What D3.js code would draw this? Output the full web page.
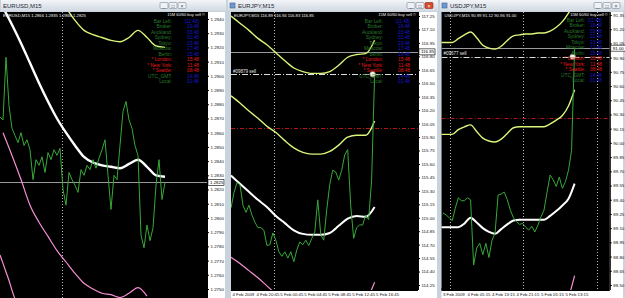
<!DOCTYPE html>
<html>
<head>
<meta charset="utf-8">
<script src="https://cdnjs.cloudflare.com/ajax/libs/d3/7.8.5/d3.min.js"></script>
<style>
  body { margin: 0; background: #d3dbe5; }
  svg { display: block; font-family: "Liberation Sans", Arial, sans-serif; }
</style>
</head>
<body>
<svg id="chart" width="625" height="298"></svg>
<script>
/* ---------------------------
   EURUSD, M15
--------------------------- */
const eurusdTicks = [1.2940, 1.2930, 1.2920, 1.2910, 1.2900, 1.2890, 1.2880, 1.2870, 1.2860, 1.2850,
    1.2840, 1.2830, 1.2820, 1.2810, 1.2800, 1.2790, 1.2780, 1.2770, 1.2760, 1.2750];
const eurusdClose = [1.2871, 1.2869, 1.2913, 1.2879, 1.2863, 1.2858, 1.2853, 1.2860, 1.2851, 1.2855,
    1.2848, 1.2827, 1.2841, 1.2837, 1.2843, 1.2832, 1.2846, 1.2841, 1.2848, 1.2844,
    1.2849, 1.2820, 1.2809, 1.2832, 1.2827, 1.2823, 1.2818, 1.2834, 1.2830, 1.2837,
    1.2834, 1.2841, 1.2835, 1.2842, 1.2848, 1.2855, 1.2830, 1.2806, 1.2830, 1.2827,
    1.2851, 1.2875, 1.2882, 1.2869, 1.2863, 1.2851, 1.2844, 1.2788, 1.2779, 1.2795,
    1.2784, 1.2793, 1.2823, 1.2841, 1.2813, 1.2825];
const eurusdMA = [1.2948, 1.2936, 1.2923, 1.2909, 1.2895, 1.2882, 1.2870, 1.2860, 1.2851, 1.2843,
    1.2839, 1.2837, 1.2836, 1.2835, 1.2838, 1.2841, 1.2836, 1.2830, 1.2829];
const eurusdUpper = [1.2948, 1.2939, 1.2932, 1.2929, 1.2927, 1.2925, 1.2924, 1.2927, 1.2932, 1.2927, 1.2921, 1.2920];
const eurusdPink = [1.2860, 1.2844, 1.2827, 1.2809, 1.2797, 1.2787, 1.2777, 1.2769, 1.2761, 1.2754,
    1.2750, 1.2747, 1.2746, 1.2744, 1.2747, 1.2751, 1.2745];
const eurusdPinkOld = [1.2774, 1.2768, 1.2762, 1.2756, 1.2749, 1.2743];
const eurusdBid = 1.2825;

/* ---------------------------
   EURJPY, M15
--------------------------- */
const eurjpyTicks = [117.25, 117.10, 116.95, 116.80, 116.65, 116.50, 116.35, 116.20, 116.05, 115.90, 115.75,
    115.60, 115.45, 115.30, 115.15, 115.00, 114.85, 114.70, 114.55, 114.40, 114.25];
const eurjpyClose = [115.11, 115.28, 115.39, 115.37, 115.14, 115.06, 115.14, 115.03, 114.95, 114.89,
    114.89, 114.86, 114.69, 114.70, 114.83, 114.75, 114.62, 114.57, 114.62, 114.55,
    114.62, 114.51, 114.64, 114.73, 114.70, 114.75, 114.69, 114.77, 114.84, 115.20,
    114.81, 114.75, 115.09, 115.37, 115.53, 115.51, 115.42, 115.53, 115.70, 115.76,
    115.14, 114.77, 114.89, 114.92, 114.92, 115.03, 114.98, 115.42, 116.60];
const eurjpyMA = [115.47, 115.38, 115.29, 115.20, 115.12, 115.02, 114.94, 114.86, 114.82, 114.81,
    114.81, 114.83, 114.91, 114.99, 115.02, 115.01, 115.12];
const eurjpyUpper = [117.25, 117.17, 117.09, 117.00, 116.93, 116.84, 116.75, 116.67, 116.63, 116.61,
    116.61, 116.63, 116.70, 116.79, 116.82, 116.83, 116.98];
const eurjpyLower = [116.36, 116.28, 116.19, 116.11, 116.02, 115.95, 115.86, 115.78, 115.73, 115.71,
    115.71, 115.74, 115.81, 115.90, 115.92, 115.92, 116.08];
const eurjpyPink = [114.56, 114.49, 114.41, 114.33, 114.24, 114.15, 114.06, 113.99, 113.95, 113.93,
    113.93, 113.95, 114.02, 114.08, 114.03, 114.08, 114.28];
const eurjpyTimeLabels = ["4 Feb 2009", "4 Feb 20:45", "5 Feb 00:45", "5 Feb 04:45", "5 Feb 08:45", "5 Feb 12:45", "5 Feb 16:45"];
const eurjpyBid = 116.85, eurjpySell = 116.60, eurjpyStop = 116.00;

/* ---------------------------
   USDJPY, M15
--------------------------- */
const usdjpyTicks = [91.35, 91.20, 91.05, 90.90, 90.75, 90.60, 90.45, 90.30, 90.15, 90.00,
    89.85, 89.70, 89.55, 89.40, 89.25, 89.10, 88.95, 88.80, 88.65, 88.50];
const usdjpyClose = [89.26, 89.24, 89.21, 89.18, 89.31, 89.42, 89.39, 89.39, 89.42, 89.40,
    88.71, 88.89, 88.94, 88.82, 88.94, 88.79, 88.97, 89.05, 89.45, 89.46,
    89.48, 89.40, 89.29, 89.21, 89.17, 89.14, 89.15, 89.11, 89.08, 89.12,
    89.06, 89.13, 89.22, 89.29, 89.48, 89.66, 89.61, 89.54, 89.64, 89.52,
    89.59, 89.71, 89.92, 91.00];
const usdjpyMA = [89.11, 89.11, 89.11, 89.11, 89.15, 89.21, 89.16, 89.10, 89.06, 89.04, 89.09, 89.14,
    89.18, 89.19, 89.19, 89.19, 89.19, 89.19, 89.23, 89.28, 89.34, 89.41, 89.57];
const usdjpyUpper = [91.06, 91.06, 91.06, 91.10, 91.14, 91.17, 91.11, 91.03, 91.00, 90.99, 91.02, 91.08,
    91.13, 91.14, 91.15, 91.15, 91.16, 91.16, 91.18, 91.22, 91.28, 91.37, 91.48];
const usdjpyLower = [90.09, 90.09, 90.09, 90.14, 90.17, 90.19, 90.12, 90.05, 90.02, 90.01, 90.04, 90.10,
    90.16, 90.17, 90.17, 90.17, 90.17, 90.17, 90.20, 90.24, 90.29, 90.39, 90.56];
const usdjpyPink = [87.92, 88.08, 88.23, 88.37, 88.60];
const usdjpyTimeLabels = ["3 Feb 2009", "4 Feb 05:15", "4 Feb 13:15", "4 Feb 21:15", "5 Feb 05:15", "5 Feb 13:15"];
const usdjpyBid = 91.00, usdjpySell = 90.91, usdjpyStop = 90.26;

/* ---------------------------
   Clock panel
--------------------------- */
const clockLabels = ["Bar Left:", "Broker:", "Auckland:", "Sydney:", "Tokyo:", "Moscow:", "Berlin:",
    "* London:", "* New York:", "* Seattle:", "UTC_GMT:", "Local:"];
const clockTimes = ["[11:48]", "16:48", "03:48", "01:48", "23:48", "17:48", "15:48",
    "15:48", "11:48", "08:48", "14:48", "01:48"];
const clockMarket = [false, false, false, false, false, false, false, true, true, true, false, false];

/* ---------------------------
   Colors
--------------------------- */
const C = {
    price: "#38a838",
    ma: "#ffffff",
    env: "#d9f57a",
    pink: "#f58fd2",
    bid: "#9a9a9a",
    sell: "#dcdcdc",
    stop: "#b0161a",
    label: "#2a7a2a",
    time: "#1818c8",
    market: "#e01b1b"
};

const svg = d3.select("#chart");
const defs = svg.append("defs");
const grad = defs.append("linearGradient").attr("id", "tbar").attr("x1", 0).attr("x2", 0).attr("y1", 0).attr("y2", 1);
grad.append("stop").attr("offset", "0%").attr("stop-color", "#f3f5f8");
grad.append("stop").attr("offset", "100%").attr("stop-color", "#d2d9e2");

const panels = [
    {
        id: "eurusd", title: "EURUSD,M15", frame: [0, 227], plot: [0, 207, 12, 298],
        bars: [0, 138], yDomain: [1.2750, 1.2940], yRange: [289, 19], ticks: eurusdTicks, fmt: d3.format(".4f"),
        ohlc: "EURUSD,M15  1.2866 1.2835 1.2866 1.2825",
        separators: [41], bid: eurusdBid, icon: false, buttonsX: 160, closeRed: false,
        series: [
            { v: eurusdPinkOld, start: 0, step: 2, color: C.pink, w: 1.2, curve: true },
            { v: eurusdPink, start: 2, step: 6, color: C.pink, w: 1.2, curve: true },
            { v: eurusdUpper, start: 44, step: 6, color: C.env, w: 1.4, curve: true },
            { v: eurusdMA, start: 2, step: 6, color: C.ma, w: 2.4, curve: true },
            { v: eurusdClose, start: 0, step: 2, color: C.price, w: 1, curve: false }
        ],
        clock: { labelRight: 172, timeRight: 199, top: 19 }
    },
    {
        id: "eurjpy", title: "EURJPY,M15", frame: [227, 439], plot: [231, 418, 12, 290],
        bars: [0, 125], yDomain: [114.25, 117.25], yRange: [285, 16], ticks: eurjpyTicks, fmt: d3.format(".2f"),
        ohlc: "EURJPY,M15  116.89 116.94 116.83 116.85",
        separators: [29], bid: eurjpyBid, sell: eurjpySell, sellText: "#09879 sell", stop: eurjpyStop,
        timeBars: [0, 16, 32, 48, 64, 80, 96], timeLabels: eurjpyTimeLabels,
        icon: true, buttonsX: 407, closeRed: true,
        series: [
            { v: eurjpyPink, start: 0, step: 6, color: C.pink, w: 1.2, curve: true },
            { v: eurjpyUpper, start: 0, step: 6, color: C.env, w: 1.4, curve: true },
            { v: eurjpyLower, start: 0, step: 6, color: C.env, w: 1.4, curve: true },
            { v: eurjpyMA, start: 0, step: 6, color: C.ma, w: 2, curve: true },
            { v: eurjpyClose, start: 0, step: 2, color: C.price, w: 1, curve: false }
        ],
        clock: { labelRight: 383, timeRight: 410, top: 19 }
    },
    {
        id: "usdjpy", title: "USDJPY,M15", frame: [439, 625], plot: [441.5, 609.8, 12, 290],
        bars: [0, 220], yDomain: [88.50, 91.35], yRange: [285, 15], ticks: usdjpyTicks, fmt: d3.format(".2f"),
        ohlc: "USDJPY,M15  90.99 91.12 90.96 91.00",
        separators: [11, 107, 203], bid: usdjpyBid, sell: usdjpySell, sellText: "#09677 sell", stop: usdjpyStop,
        timeBars: [0, 32, 64, 96, 128, 160], timeLabels: usdjpyTimeLabels,
        icon: true, buttonsX: 594, closeRed: false,
        series: [
            { v: usdjpyPink, start: 142, step: 8, color: C.pink, w: 1.2, curve: true },
            { v: usdjpyUpper, start: -2, step: 8, color: C.env, w: 1.4, curve: true },
            { v: usdjpyLower, start: -2, step: 8, color: C.env, w: 1.4, curve: true },
            { v: usdjpyMA, start: -2, step: 8, color: C.ma, w: 2, curve: true },
            { v: usdjpyClose, start: 2, step: 4, color: C.price, w: 1, curve: false }
        ],
        clock: { labelRight: 585, timeRight: 602, top: 18 }
    }
];

panels.forEach(drawPanel);

function drawPanel(p) {
    const [px0, px1, py0, py1] = p.plot;
    const g = svg.append("g").attr("id", p.id);

    /* ---------------------------
       Window frame
    --------------------------- */
    g.append("rect")
        .attr("x", p.frame[0]).attr("y", 0)
        .attr("width", p.frame[1] - p.frame[0]).attr("height", 298)
        .attr("fill", "#c9d3de");
    g.append("rect")
        .attr("x", px0).attr("y", py0)
        .attr("width", p.frame[1] - 2 - px0).attr("height", 298 - py0)
        .attr("fill", "#ffffff");
    g.append("rect")
        .attr("x", p.frame[0] + 1).attr("y", 0)
        .attr("width", p.frame[1] - p.frame[0] - 2).attr("height", 11)
        .attr("fill", "url(#tbar)");
    let tx = p.frame[0] + 3;
    if (p.icon) {
        g.append("rect").attr("x", tx).attr("y", 3).attr("width", 5).attr("height", 5)
            .attr("fill", "#6f9ad0").attr("stroke", "#3d5f8f").attr("stroke-width", 0.6);
        tx += 8;
    }
    g.append("text").attr("x", tx).attr("y", 8)
        .attr("font-size", "6px").attr("fill", "#1d2833").text(p.title);
    [0, 1, 2].forEach(i => {
        const bx = p.buttonsX + i * 9;
        const red = p.closeRed && i === 2;
        g.append("rect").attr("x", bx).attr("y", 2.5).attr("width", 8).attr("height", 6)
            .attr("rx", 1)
            .attr("fill", red ? "#d8492f" : "#eef1f5").attr("stroke", red ? "#8c2a1a" : "#7e8896")
            .attr("stroke-width", 0.6);
        g.append("text").attr("x", bx + 4).attr("y", 7.6).attr("text-anchor", "middle")
            .attr("font-size", "5px").attr("fill", red ? "#fff" : "#3a4450")
            .text(["_", "□", "×"][i]);
    });

    /* ---------------------------
       Plot area and scales
    --------------------------- */
    g.append("rect")
        .attr("x", px0).attr("y", py0)
        .attr("width", px1 - px0).attr("height", py1 - py0)
        .attr("fill", "#000");

    const x = d3.scaleLinear().domain(p.bars).range([px0, px1]);
    const y = d3.scaleLinear().domain(p.yDomain).range(p.yRange);

    defs.append("clipPath").attr("id", "clip-" + p.id)
        .append("rect").attr("x", px0).attr("y", py0)
        .attr("width", px1 - px0).attr("height", py1 - py0);
    const plot = g.append("g").attr("clip-path", `url(#clip-${p.id})`);

    // period separators
    plot.selectAll("line.sep")
        .data(p.separators)
        .enter()
        .append("line")
        .attr("x1", d => Math.round(x(d)) + 0.5).attr("x2", d => Math.round(x(d)) + 0.5)
        .attr("y1", py0).attr("y2", py1)
        .attr("stroke", "#b8b8b8").attr("stroke-width", 1)
        .attr("stroke-dasharray", "1,2");

    // horizontal price levels
    const hline = (v, color, dash, w) => plot.append("line")
        .attr("x1", px0).attr("x2", px1)
        .attr("y1", Math.round(y(v)) + 0.5).attr("y2", Math.round(y(v)) + 0.5)
        .attr("stroke", color).attr("stroke-width", w)
        .attr("stroke-dasharray", dash);
    if (p.stop !== undefined) hline(p.stop, C.stop, "4,2,1,2", 1);
    hline(p.bid, C.bid, null, 1);
    if (p.sell !== undefined) {
        hline(p.sell, C.sell, "6,2,1,2", 1);
        plot.append("text").attr("x", px0 + 2).attr("y", y(p.sell) - 1.5)
            .attr("font-size", "4.5px").attr("fill", "#e8e8e8").text(p.sellText);
    }

    // series
    p.series.forEach(s => {
        const line = d3.line()
            .x((d, i) => x(s.start + i * s.step))
            .y(d => y(d))
            .curve(s.curve ? d3.curveMonotoneX : d3.curveLinear);
        plot.append("path")
            .datum(s.v)
            .attr("d", line)
            .attr("fill", "none")
            .attr("stroke", s.color)
            .attr("stroke-width", s.w)
            .attr("stroke-linejoin", "round");
    });

    // order marker where price met the sell level
    if (p.sell !== undefined) {
        const close = p.series[p.series.length - 1];
        const lastBar = close.start + (close.v.length - 1) * close.step;
        plot.append("circle")
            .attr("cx", x(lastBar) - 2).attr("cy", y(p.sell))
            .attr("r", 2.8)
            .attr("fill", "#f4f4e4").attr("stroke", "#7a8a6a").attr("stroke-width", 0.8);
    }

    /* ---------------------------
       Texts on the chart
    --------------------------- */
    g.append("text").attr("x", px0 + 3).attr("y", py0 + 4.5)
        .attr("font-size", "4.2px").attr("fill", "#f0f0f0").text(p.ohlc);

    const ck = p.clock;
    g.append("text").attr("x", px1 - 2).attr("y", py0 + 4.2)
        .attr("text-anchor", "end").attr("font-size", "4px").attr("fill", "#f0f0f0")
        .text("15M 60/60 buy sell ©");
    const rows = g.append("g");
    clockLabels.forEach((lab, i) => {
        const ry = ck.top + 3.6 + i * 5.5;
        rows.append("text").attr("x", ck.labelRight).attr("y", ry)
            .attr("text-anchor", "end").attr("font-size", "4.8px")
            .attr("fill", clockMarket[i] ? C.market : C.label).text(lab);
        rows.append("text").attr("x", ck.timeRight).attr("y", ry)
            .attr("text-anchor", "end").attr("font-size", "4.8px")
            .attr("fill", clockMarket[i] ? C.market : C.time).text(clockTimes[i]);
    });

    /* ---------------------------
       Axes
    --------------------------- */
    const yAxis = g.append("g")
        .attr("transform", `translate(${px1},0)`)
        .call(d3.axisRight(y).tickValues(p.ticks).tickFormat(p.fmt).tickSize(2).tickPadding(1.5));
    yAxis.select(".domain").attr("stroke", "#000").attr("d", `M0.5,${py0}V${py1}`);
    yAxis.selectAll("text").attr("font-size", "4.4px").attr("fill", "#111").attr("font-family", null);
    yAxis.selectAll("line").attr("stroke", "#000");

    const bidG = g.append("g").attr("transform", `translate(${px1 + 1},${y(p.bid)})`);
    bidG.append("rect").attr("x", 0).attr("y", -3).attr("width", 16).attr("height", 6)
        .attr("fill", "#fff").attr("stroke", "#000").attr("stroke-width", 0.6);
    bidG.append("text").attr("x", 2).attr("y", 1.5).attr("font-size", "4.4px").attr("fill", "#000")
        .text(p.fmt(p.bid));

    if (p.timeBars) {
        const xAxis = g.append("g")
            .attr("transform", `translate(0,${py1})`)
            .call(d3.axisBottom(x).tickValues(p.timeBars).tickFormat((d, i) => p.timeLabels[i]).tickSize(2).tickPadding(0.5));
        xAxis.select(".domain").attr("stroke", "#000").attr("d", `M${px0},0.5H${px1}`);
        xAxis.selectAll("line").attr("stroke", "#000").attr("transform", "translate(0,-2)");
        xAxis.selectAll("text").attr("font-size", "4.3px").attr("fill", "#111")
            .attr("text-anchor", "start").attr("dx", "1px").attr("font-family", null);
    }
}
</script>
</body>
</html>
